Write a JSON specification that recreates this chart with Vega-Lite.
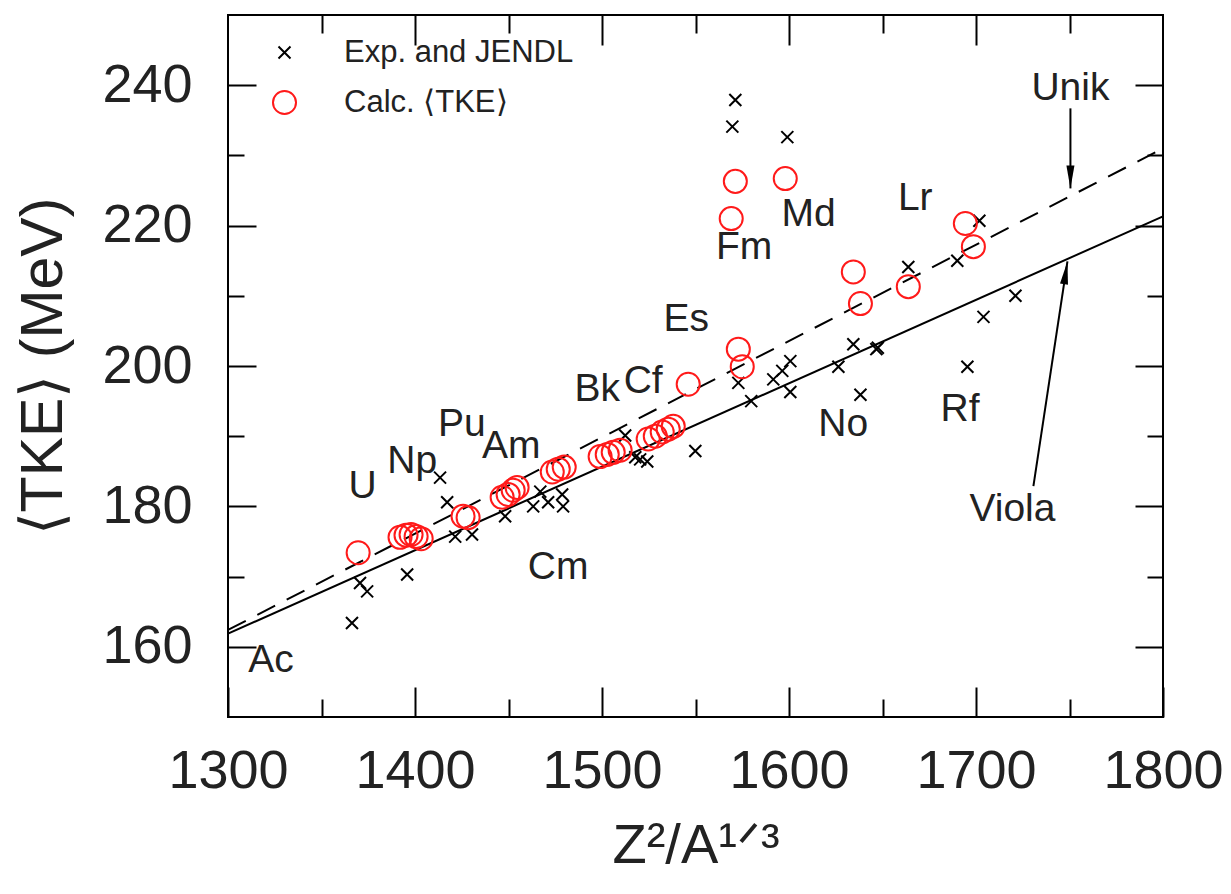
{
  "$schema": "https://vega.github.io/schema/vega-lite/v6.json",
  "width": 935,
  "height": 702,
  "autosize": {"type": "none"},
  "padding": {"left": 228, "top": 15, "right": 68, "bottom": 177},
  "background": "white",
  "config": {
    "view": {"stroke": "black", "strokeWidth": 2},
    "font": "Liberation Sans",
    "axis": {
      "domain": false,
      "grid": false,
      "tickColor": "black",
      "tickWidth": 2,
      "labelFont": "Liberation Sans",
      "labelFontSize": 54,
      "labelColor": "#222222",
      "labelFlush": false,
      "labelOverlap": false,
      "labelBound": false,
      "format": "d",
      "titleFont": "Liberation Sans",
      "titleFontSize": 56,
      "titleFontWeight": "normal",
      "titleColor": "#222222"
    },
    "legend": {
      "orient": "none",
      "legendX": 41,
      "legendY": 22,
      "padding": 0,
      "labelFont": "Liberation Sans",
      "labelFontSize": 31,
      "labelColor": "#222222",
      "labelLimit": 0,
      "labelOffset": 44,
      "rowPadding": 18,
      "symbolStrokeWidth": 2
    }
  },
  "datasets": {
    "points": [
      {"s": "Exp. and JENDL", "x": 1366.3, "y": 163.4},
      {"s": "Exp. and JENDL", "x": 1370.6, "y": 169.1},
      {"s": "Exp. and JENDL", "x": 1374.4, "y": 167.9},
      {"s": "Exp. and JENDL", "x": 1395.8, "y": 170.3},
      {"s": "Exp. and JENDL", "x": 1413.4, "y": 184.1},
      {"s": "Exp. and JENDL", "x": 1417.2, "y": 180.6},
      {"s": "Exp. and JENDL", "x": 1421.5, "y": 175.7},
      {"s": "Exp. and JENDL", "x": 1430.5, "y": 176.0},
      {"s": "Exp. and JENDL", "x": 1448.2, "y": 178.6},
      {"s": "Exp. and JENDL", "x": 1463.2, "y": 180.0},
      {"s": "Exp. and JENDL", "x": 1471.2, "y": 180.6},
      {"s": "Exp. and JENDL", "x": 1479.2, "y": 180.0},
      {"s": "Exp. and JENDL", "x": 1478.7, "y": 181.7},
      {"s": "Exp. and JENDL", "x": 1467.0, "y": 182.1},
      {"s": "Exp. and JENDL", "x": 1512.4, "y": 190.1},
      {"s": "Exp. and JENDL", "x": 1517.8, "y": 187.0},
      {"s": "Exp. and JENDL", "x": 1520.4, "y": 186.7},
      {"s": "Exp. and JENDL", "x": 1524.2, "y": 186.4},
      {"s": "Exp. and JENDL", "x": 1549.9, "y": 187.9},
      {"s": "Exp. and JENDL", "x": 1572.9, "y": 197.6},
      {"s": "Exp. and JENDL", "x": 1579.8, "y": 195.0},
      {"s": "Exp. and JENDL", "x": 1591.6, "y": 198.1},
      {"s": "Exp. and JENDL", "x": 1596.4, "y": 199.3},
      {"s": "Exp. and JENDL", "x": 1600.7, "y": 200.7},
      {"s": "Exp. and JENDL", "x": 1600.7, "y": 196.3},
      {"s": "Exp. and JENDL", "x": 1626.4, "y": 199.9},
      {"s": "Exp. and JENDL", "x": 1634.4, "y": 203.1},
      {"s": "Exp. and JENDL", "x": 1638.2, "y": 195.9},
      {"s": "Exp. and JENDL", "x": 1646.7, "y": 202.4},
      {"s": "Exp. and JENDL", "x": 1647.5, "y": 202.6},
      {"s": "Exp. and JENDL", "x": 1663.8, "y": 214.1},
      {"s": "Exp. and JENDL", "x": 1690.0, "y": 215.0},
      {"s": "Exp. and JENDL", "x": 1701.8, "y": 220.7},
      {"s": "Exp. and JENDL", "x": 1704.0, "y": 207.0},
      {"s": "Exp. and JENDL", "x": 1695.4, "y": 199.9},
      {"s": "Exp. and JENDL", "x": 1721.1, "y": 210.0},
      {"s": "Exp. and JENDL", "x": 1571.3, "y": 237.9},
      {"s": "Exp. and JENDL", "x": 1569.7, "y": 234.1},
      {"s": "Exp. and JENDL", "x": 1599.1, "y": 232.6},
      {"s": "Calc. ⟨TKE⟩", "x": 1369.6, "y": 173.4},
      {"s": "Calc. ⟨TKE⟩", "x": 1392.0, "y": 175.6},
      {"s": "Calc. ⟨TKE⟩", "x": 1395.2, "y": 175.9},
      {"s": "Calc. ⟨TKE⟩", "x": 1397.9, "y": 176.0},
      {"s": "Calc. ⟨TKE⟩", "x": 1400.6, "y": 175.7},
      {"s": "Calc. ⟨TKE⟩", "x": 1403.3, "y": 175.4},
      {"s": "Calc. ⟨TKE⟩", "x": 1425.7, "y": 178.6},
      {"s": "Calc. ⟨TKE⟩", "x": 1428.4, "y": 178.4},
      {"s": "Calc. ⟨TKE⟩", "x": 1446.6, "y": 181.3},
      {"s": "Calc. ⟨TKE⟩", "x": 1449.8, "y": 181.7},
      {"s": "Calc. ⟨TKE⟩", "x": 1452.5, "y": 182.3},
      {"s": "Calc. ⟨TKE⟩", "x": 1454.6, "y": 182.7},
      {"s": "Calc. ⟨TKE⟩", "x": 1473.4, "y": 184.9},
      {"s": "Calc. ⟨TKE⟩", "x": 1476.6, "y": 185.3},
      {"s": "Calc. ⟨TKE⟩", "x": 1479.8, "y": 185.6},
      {"s": "Calc. ⟨TKE⟩", "x": 1499.0, "y": 187.1},
      {"s": "Calc. ⟨TKE⟩", "x": 1502.8, "y": 187.4},
      {"s": "Calc. ⟨TKE⟩", "x": 1506.0, "y": 187.7},
      {"s": "Calc. ⟨TKE⟩", "x": 1509.7, "y": 188.0},
      {"s": "Calc. ⟨TKE⟩", "x": 1524.7, "y": 189.6},
      {"s": "Calc. ⟨TKE⟩", "x": 1528.5, "y": 190.0},
      {"s": "Calc. ⟨TKE⟩", "x": 1532.2, "y": 190.6},
      {"s": "Calc. ⟨TKE⟩", "x": 1535.4, "y": 191.0},
      {"s": "Calc. ⟨TKE⟩", "x": 1538.1, "y": 191.4},
      {"s": "Calc. ⟨TKE⟩", "x": 1546.1, "y": 197.4},
      {"s": "Calc. ⟨TKE⟩", "x": 1572.9, "y": 202.4},
      {"s": "Calc. ⟨TKE⟩", "x": 1575.0, "y": 199.9},
      {"s": "Calc. ⟨TKE⟩", "x": 1569.1, "y": 221.0},
      {"s": "Calc. ⟨TKE⟩", "x": 1571.3, "y": 226.3},
      {"s": "Calc. ⟨TKE⟩", "x": 1598.0, "y": 226.7},
      {"s": "Calc. ⟨TKE⟩", "x": 1634.4, "y": 213.4},
      {"s": "Calc. ⟨TKE⟩", "x": 1638.2, "y": 208.9},
      {"s": "Calc. ⟨TKE⟩", "x": 1663.8, "y": 211.3},
      {"s": "Calc. ⟨TKE⟩", "x": 1694.3, "y": 220.3},
      {"s": "Calc. ⟨TKE⟩", "x": 1698.6, "y": 217.0}
    ],
    "lines": [
      {"model": "Viola", "x": 1300, "y": 161.87},
      {"model": "Viola", "x": 1800, "y": 221.32},
      {"model": "Unik", "x": 1300, "y": 162.4},
      {"model": "Unik", "x": 1800, "y": 231.0}
    ],
    "labels": [
      {"label": "U", "x": 1372, "y": 182.9},
      {"label": "Np", "x": 1398.5, "y": 186.4},
      {"label": "Pu", "x": 1425, "y": 191.7},
      {"label": "Am", "x": 1451.5, "y": 188.6},
      {"label": "Bk", "x": 1497.5, "y": 196.7},
      {"label": "Cf", "x": 1522, "y": 197.8},
      {"label": "Es", "x": 1545, "y": 206.7},
      {"label": "Fm", "x": 1576, "y": 217.0},
      {"label": "Md", "x": 1610.5, "y": 221.7},
      {"label": "Lr", "x": 1667.5, "y": 223.9},
      {"label": "No", "x": 1629, "y": 191.7},
      {"label": "Rf", "x": 1691.5, "y": 193.9},
      {"label": "Cm", "x": 1476.5, "y": 171.4},
      {"label": "Ac", "x": 1323, "y": 158.1},
      {"label": "Unik", "x": 1750.5, "y": 239.6},
      {"label": "Viola", "x": 1719.5, "y": 179.6}
    ],
    "arrows": [
      {"name": "Unik", "x": 1750.5, "y": 236.7, "x2": 1750.5, "y2": 225.3},
      {"name": "Viola", "x": 1730.7, "y": 182.9, "x2": 1748.9, "y2": 214.9}
    ]
  },
  "resolve": {"axis": {"x": "independent", "y": "independent"}},
  "layer": [
    {
      "data": {"name": "lines"},
      "transform": [{"filter": "datum.model === 'Viola'"}],
      "mark": {"type": "line", "color": "black", "strokeWidth": 2},
      "encoding": {
        "x": {
          "field": "x", "type": "quantitative",
          "scale": {"domain": [1300, 1800], "nice": false, "zero": false},
          "axis": {"orient": "top", "title": null, "labels": false, "tickSize": -30,
                   "values": [1400, 1500, 1600, 1700]}
        },
        "y": {
          "field": "y", "type": "quantitative",
          "scale": {"domain": [150, 250], "nice": false, "zero": false},
          "axis": {"orient": "right", "title": null, "labels": false, "tickSize": -28,
                   "values": [160, 180, 200, 220, 240]}
        }
      }
    },
    {
      "data": {"name": "lines"},
      "transform": [{"filter": "datum.model === 'Unik'"}],
      "mark": {"type": "line", "color": "black", "strokeWidth": 2, "strokeDash": [20, 13]},
      "encoding": {
        "x": {
          "field": "x", "type": "quantitative",
          "axis": {"orient": "top", "title": null, "labels": false, "tickSize": -18,
                   "values": [1350, 1450, 1550, 1650, 1750]}
        },
        "y": {
          "field": "y", "type": "quantitative",
          "axis": {"orient": "right", "title": null, "labels": false, "tickSize": -16,
                   "values": [170, 190, 210, 230]}
        }
      }
    },
    {
      "data": {"name": "points"},
      "mark": {"type": "point", "filled": false, "strokeWidth": 2, "opacity": 1},
      "encoding": {
        "x": {
          "field": "x", "type": "quantitative",
          "scale": {"domain": [1300, 1800], "nice": false, "zero": false},
          "axis": {
            "orient": "bottom",
            "title": "Z²/A¹ᐟ³",
            "titlePadding": 20,
            "tickSize": -30,
            "labelPadding": 57,
            "values": [1300, 1400, 1500, 1600, 1700, 1800]
          }
        },
        "y": {
          "field": "y", "type": "quantitative",
          "scale": {"domain": [150, 250], "nice": false, "zero": false},
          "axis": {
            "orient": "left",
            "title": "⟨TKE⟩ (MeV)",
            "titleFontSize": 59,
            "titlePadding": 28,
            "tickSize": -28,
            "labelPadding": 64,
            "values": [160, 180, 200, 220, 240]
          }
        },
        "shape": {
          "field": "s", "type": "nominal",
          "scale": {"domain": ["Exp. and JENDL", "Calc. ⟨TKE⟩"], "range": ["M-1,-1L1,1M1,-1L-1,1", "circle"]},
          "legend": {"title": null}
        },
        "color": {
          "field": "s", "type": "nominal",
          "scale": {"domain": ["Exp. and JENDL", "Calc. ⟨TKE⟩"], "range": ["#000000", "#ff1a1a"]},
          "legend": {"title": null}
        },
        "size": {
          "field": "s", "type": "nominal",
          "scale": {"type": "ordinal", "domain": ["Exp. and JENDL", "Calc. ⟨TKE⟩"], "range": [144, 531]},
          "legend": {"title": null}
        }
      }
    },
    {
      "data": {"name": "labels"},
      "mark": {"type": "text", "font": "Liberation Sans", "fontSize": 39, "color": "#222222", "align": "center", "baseline": "middle"},
      "encoding": {
        "x": {
          "field": "x", "type": "quantitative",
          "axis": {"orient": "bottom", "title": null, "labels": false, "tickSize": -18,
                   "values": [1350, 1450, 1550, 1650, 1750]}
        },
        "y": {
          "field": "y", "type": "quantitative",
          "axis": {"orient": "left", "title": null, "labels": false, "tickSize": -16,
                   "values": [170, 190, 210, 230]}
        },
        "text": {"field": "label"}
      }
    },
    {
      "data": {"name": "arrows"},
      "mark": {"type": "rule", "color": "black", "strokeWidth": 2},
      "encoding": {
        "x": {"field": "x", "type": "quantitative", "axis": null},
        "y": {"field": "y", "type": "quantitative", "axis": null},
        "x2": {"field": "x2"},
        "y2": {"field": "y2"}
      }
    },
    {
      "data": {"name": "arrows"},
      "transform": [{"filter": "datum.name === 'Unik'"}],
      "mark": {"type": "point", "shape": "M0,0L-0.35,2L0.35,2Z", "angle": 180, "size": 529, "filled": true, "color": "black", "opacity": 1, "strokeWidth": 0},
      "encoding": {
        "x": {"field": "x2", "type": "quantitative", "axis": null},
        "y": {"field": "y2", "type": "quantitative", "axis": null}
      }
    },
    {
      "data": {"name": "arrows"},
      "transform": [{"filter": "datum.name === 'Viola'"}],
      "mark": {"type": "point", "shape": "M0,0L-0.35,2L0.35,2Z", "angle": 8.6, "size": 529, "filled": true, "color": "black", "opacity": 1, "strokeWidth": 0},
      "encoding": {
        "x": {"field": "x2", "type": "quantitative", "axis": null},
        "y": {"field": "y2", "type": "quantitative", "axis": null}
      }
    }
  ]
}
